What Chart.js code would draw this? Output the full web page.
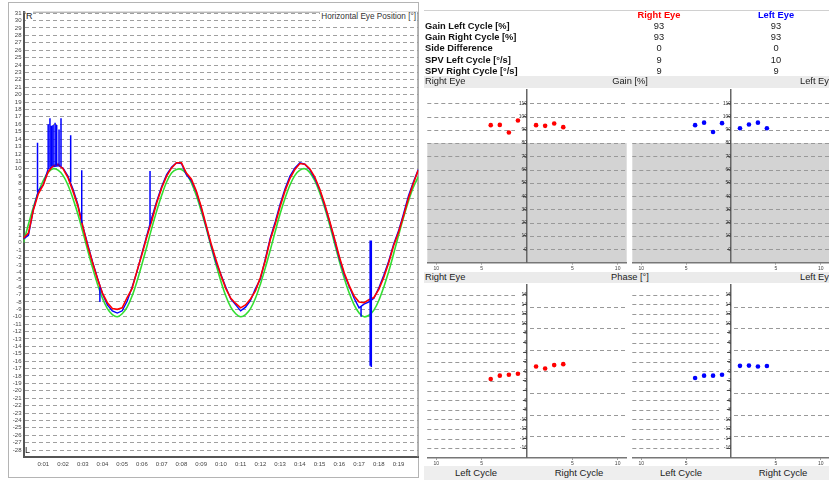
<!DOCTYPE html>
<html>
<head>
<meta charset="utf-8">
<script src="https://cdn.jsdelivr.net/npm/chart.js@4.4.1/dist/chart.umd.min.js"></script>
<style>
  body { margin: 0; width: 829px; height: 480px; overflow: hidden; background: #fff; position: relative;
         font-family: "Liberation Sans", Arial, sans-serif; color: #222; }
  canvas, .abs { position: absolute; }
  .band { position: absolute; left: 424px; width: 412px; background: #ebebeb; }
  .band span { position: absolute; top: 0; white-space: nowrap; }
</style>
</head>
<body>
<div class="abs" style="left:8px;top:2px;width:411px;height:476px;border:1px solid #b4b4b4;box-sizing:border-box"></div>
<canvas id="eyeChart" width="412" height="476" style="left:8px;top:2px"></canvas>
<div class="abs" style="left:26px;top:11px;font-size:9px;line-height:10px;color:#222;background:#fff">R</div>
<div class="abs" style="left:25px;top:445px;font-size:9px;line-height:10px;color:#222;background:#fff">L</div>
<div class="abs" id="eyeTitle" style="right:412px;top:12px;font-size:8.2px;line-height:10px;color:#333;background:#fff;padding:0 1px">Horizontal Eye Position [°]</div>

<div class="abs" style="left:424px;top:10px;width:412px;border-top:1px solid #d0d0d0"></div>
<div id="summary"></div>

<div class="band" style="top:76px;height:11.5px;font-size:9.3px;line-height:11.5px">
  <span style="left:1px">Right Eye</span>
  <span style="left:206px;transform:translateX(-50%)">Gain [%]</span>
  <span style="left:376px">Left Eye</span>
</div>
<canvas id="gainRight" width="204" height="185" style="left:425px;top:87px"></canvas>
<canvas id="gainLeft" width="202" height="185" style="left:630px;top:87px"></canvas>

<div class="band" style="top:271.5px;height:11px;font-size:9.3px;line-height:11px">
  <span style="left:1px">Right Eye</span>
  <span style="left:206px;transform:translateX(-50%)">Phase [°]</span>
  <span style="left:376px">Left Eye</span>
</div>
<canvas id="phaseRight" width="204" height="186" style="left:425px;top:282px"></canvas>
<canvas id="phaseLeft" width="202" height="186" style="left:630px;top:282px"></canvas>

<div class="band" style="top:465.5px;height:15px;font-size:9.5px;line-height:13px;background:#eeeeee">
  <span style="left:52px;transform:translateX(-50%)">Left Cycle</span>
  <span style="left:155px;transform:translateX(-50%)">Right Cycle</span>
  <span style="left:257px;transform:translateX(-50%)">Left Cycle</span>
  <span style="left:359px;transform:translateX(-50%)">Right Cycle</span>
</div>

<script>
// ---- eye position trace (seconds / degrees) ----
const times = [
  0, 0.25, 0.5, 0.75, 1, 1.25, 1.5, 1.75, 2, 2.25, 2.5, 2.75, 3, 3.25, 3.5, 3.75,
  4, 4.25, 4.5, 4.75, 5, 5.25, 5.5, 5.75, 6, 6.25, 6.5, 6.75, 7, 7.25, 7.5, 7.75,
  8, 8.25, 8.5, 8.75, 9, 9.25, 9.5, 9.75, 10, 10.25, 10.5, 10.75, 11, 11.25, 11.5, 11.75,
  12, 12.25, 12.5, 12.75, 13, 13.25, 13.5, 13.75, 14, 14.25, 14.5, 14.75, 15, 15.25, 15.5, 15.75,
  16, 16.25, 16.5, 16.75, 17, 17.25, 17.5, 17.75, 18, 18.25, 18.5, 18.75, 19, 19.25, 19.5, 19.75, 20
];
const stimulus = [
  0, 2.5, 4.8, 6.8, 8.4, 9.5, 10, 9.8, 9.1, 7.8, 6.0, 3.9, 1.5, -1.0, -3.4, -5.6,
  -7.5, -8.9, -9.7, -10, -9.6, -8.7, -7.2, -5.2, -2.9, -0.5, 2.0, 4.3, 6.4, 8.2, 9.4, 9.9,
  9.9, 9.3, 8.1, 6.4, 4.3, 2.0, -0.5, -2.9, -5.2, -7.2, -8.7, -9.6, -10, -9.7, -8.9, -7.5,
  -5.6, -3.4, -1.0, 1.5, 3.9, 6.0, 7.8, 9.1, 9.8, 10, 9.5, 8.4, 6.8, 4.8, 2.5, 0,
  -2.5, -4.8, -6.8, -8.4, -9.5, -10, -9.8, -9.1, -7.8, -6.0, -3.9, -1.5, 1.0, 3.4, 5.6, 7.5, 8.9
];
const rightEyePos = [
  0.6, 1.3, 4.4, 6.6, 7.8, 9.6, 10.4, 10.6, 10.0, 8.8, 7.0, 5.0, 2.2, -0.4, -2.7, -4.9,
  -6.8, -8.1, -8.9, -9.0, -8.8, -7.4, -6.2, -3.8, -1.6, 0.8, 3.0, 5.4, 7.4, 9.0, 10.1, 10.8,
  10.8, 9.4, 8.6, 7.0, 4.9, 2.4, -0.1, -2.3, -4.4, -6.2, -7.5, -8.2, -8.8, -8.4, -7.6, -6.5,
  -4.7, -2.4, 0.4, 2.5, 4.9, 7.0, 8.7, 9.9, 10.7, 10.6, 10.0, 8.9, 7.3, 5.3, 3.0, 0.6,
  -1.9, -4.1, -5.8, -7.2, -8.0, -8.1, -7.7, -7.4, -6.3, -4.7, -2.7, -0.4, 1.4, 3.6, 6.0, 8.0, 9.8
];
const leftEyePos = [
  0.5, 1.0, 4.5, 7.0, 7.8, 10.0, 10.3, 10.4, 10.1, 9.0, 7.3, 5.2, 2.3, -0.2, -2.6, -4.8,
  -6.9, -8.4, -9.2, -9.5, -9.2, -7.9, -6.0, -3.9, -1.4, 1.0, 3.4, 5.6, 7.6, 9.2, 10.2, 10.8,
  10.7, 9.2, 8.4, 6.9, 4.7, 2.2, -0.3, -2.6, -4.3, -6.0, -7.6, -8.4, -9.2, -8.7, -7.8, -6.2,
  -4.9, -2.2, 0.6, 2.8, 5.2, 7.3, 9.0, 10.1, 10.8, 10.6, 9.9, 8.7, 7.2, 5.1, 2.9, 0.4,
  -2.1, -4.3, -5.9, -7.5, -8.8, -8.3, -8.0, -7.5, -6.1, -4.4, -2.5, -0.2, 1.6, 3.9, 6.3, 8.2, 9.9
];
// blink / saccade artefacts on the left eye channel
const spikeTimes = [0.71, 1.25, 1.34, 1.42, 1.5, 1.6, 1.68, 1.8, 1.9, 2.39, 2.95, 3.87, 6.41, 17.1, 17.56, 17.62];
const spikeFrom  = [6.8, 10.0, 10.2, 10.3, 10.4, 10.4, 10.4, 10.4, 10.3, 8.2, 2.7, -6.0, 2.5, -8.6, 0.3, 0.3];
const spikeTo    = [13.5, 16.0, 16.8, 15.8, 15.9, 16.2, 15.9, 15.3, 16.8, 14.5, 9.8, -8.0, 9.7, -10.0, -16.6, -16.8];
const timeTicks  = [1, 2, 3, 4, 5, 6, 7, 8, 9, 10, 11, 12, 13, 14, 15, 16, 17, 18, 19];
const timeLabels = ['0:01', '0:02', '0:03', '0:04', '0:05', '0:06', '0:07', '0:08', '0:09', '0:10',
                    '0:11', '0:12', '0:13', '0:14', '0:15', '0:16', '0:17', '0:18', '0:19'];

// ---- summary table ----
const summaryLabels = ['Gain Left Cycle [%]', 'Gain Right Cycle [%]', 'Side Difference', 'SPV Left Cycle [°/s]', 'SPV Right Cycle [°/s]'];
const summaryRight = [93, 93, 0, 9, 9];
const summaryLeft = [93, 93, 0, 10, 9];

// ---- per cycle gain / phase ----
const cyclePos = [-4, -3, -2, -1, 1, 2, 3, 4];
const gainRightEye = [93.5, 93.7, 88, 97, 93.5, 93, 94.7, 92];
const gainLeftEye = [93.5, 95.4, 88.3, 95, 91.2, 94, 95.4, 91.2];
const phaseRightEye = [-1.6, -0.9, -0.7, -0.5, 1.0, 0.6, 1.3, 1.5];
const phaseLeftEye = [-1.4, -0.9, -0.9, -0.7, 1.15, 1.2, 1.0, 1.1];
const cycleTicks = [-10, -5, 5, 10];
const gainTicks = [0, 10, 20, 30, 40, 50, 60, 70, 80, 90, 100, 110];
const phaseTicks = [-16, -14, -12, -10, -8, -6, -4, -2, 0, 2, 4, 6, 8, 10, 12, 14, 16];
const phaseWideGrid = [-13.5, -9, -4.5, 0, 4.5, 9, 13.5];
const gainNormLimit = 80;

const RED = '#ff0000', BLUE = '#0000ff', GREEN = '#33dd33';
Chart.defaults.font.family = '"Liberation Sans", Arial, sans-serif';

// summary rows
var summary = document.getElementById('summary');
function addText(txt, left, top, css) {
    var d = document.createElement('div');
    d.className = 'abs';
    d.textContent = txt;
    d.style.cssText += 'left:' + left + 'px;top:' + top + 'px;line-height:11px;white-space:nowrap;' + css;
    summary.appendChild(d);
}
addText('Right Eye', 659, 10.2, 'font-size:9.3px;font-weight:bold;color:' + RED + ';transform:translateX(-50%)');
addText('Left Eye', 776, 10.2, 'font-size:9.3px;font-weight:bold;color:' + BLUE + ';transform:translateX(-50%)');
summaryLabels.forEach(function (lbl, i) {
    var top = 21.2 + i * 11.1;
    addText(lbl, 425, top, 'font-size:9.3px;font-weight:bold;color:#111');
    addText(summaryRight[i], 659, top, 'font-size:9.3px;color:#222;transform:translateX(-50%)');
    addText(summaryLeft[i], 776, top, 'font-size:9.3px;color:#222;transform:translateX(-50%)');
});

// ---- main trace chart ----
var spikePts = [];
spikeTimes.forEach(function (t, i) {
    spikePts.push({x: t, y: spikeFrom[i]}, {x: t, y: spikeTo[i]}, {x: t, y: null});
});

const plotFrame = {
    id: 'plotFrame',
    beforeDatasetsDraw: function (chart) {
        var a = chart.chartArea, ctx = chart.ctx;
        ctx.save();
        ctx.strokeStyle = '#9a9a9a';
        ctx.lineWidth = 1;
        ctx.beginPath();
        ctx.moveTo(a.left, a.top + 0.5);
        ctx.lineTo(a.right - 0.5, a.top + 0.5);
        ctx.lineTo(a.right - 0.5, a.bottom);
        ctx.stroke();
        ctx.restore();
    }
};

new Chart(document.getElementById('eyeChart'), {
    type: 'line',
    data: {
        datasets: [
            { data: spikePts, borderColor: BLUE, borderWidth: 1.5, pointRadius: 0, spanGaps: false, order: 0 },
            { data: times.map((t, i) => ({x: t, y: rightEyePos[i]})), borderColor: RED, borderWidth: 1.6, pointRadius: 0, tension: 0, order: 1 },
            { data: times.map((t, i) => ({x: t, y: leftEyePos[i]})), borderColor: BLUE, borderWidth: 1.4, pointRadius: 0, tension: 0, order: 2 },
            { data: times.map((t, i) => ({x: t, y: stimulus[i]})), borderColor: GREEN, borderWidth: 1.6, pointRadius: 0, tension: 0.35, order: 3 }
        ]
    },
    options: {
        responsive: false,
        animation: false,
        layout: { padding: { top: 9.7, right: 1.7, left: 0, bottom: 0 } },
        plugins: { legend: { display: false }, tooltip: { enabled: false } },
        scales: {
            x: {
                type: 'linear', min: 0, max: 20,
                afterBuildTicks: function (s) { s.ticks = timeTicks.map(v => ({value: v})); },
                afterFit: function (s) { s.height = 21.3; },
                grid: { display: false, drawTicks: false },
                border: { color: '#555', width: 2 },
                ticks: { font: { size: 6 }, color: '#444', padding: 4, maxRotation: 0, autoSkip: false,
                         callback: function (v, i) { return timeLabels[i]; } }
            },
            y: {
                type: 'linear', min: -28.9, max: 31.2,
                afterFit: function (s) { s.width = 15.5; },
                grid: { color: '#a0a0a0', drawTicks: false, lineWidth: 1 },
                border: { color: '#555', width: 2, dash: [4, 3] },
                ticks: { stepSize: 1, includeBounds: false, autoSkip: false, font: { size: 6 }, color: '#444', padding: 2 }
            }
        }
    },
    plugins: [plotFrame]
});

// ---- cycle panels ----
function halfGrid(leftVals, rightVals, shade) {
    return {
        id: 'halfGrid',
        beforeDraw: function (chart) {
            var a = chart.chartArea, ctx = chart.ctx;
            var ys = chart.scales.y, cx = chart.scales.x.getPixelForValue(0);
            ctx.save();
            if (shade !== null) {
                ctx.fillStyle = '#d3d3d3';
                var top = ys.getPixelForValue(shade);
                ctx.fillRect(a.left, top, a.right - a.left, a.bottom - top);
            }
            ctx.strokeStyle = '#999999';
            ctx.lineWidth = 1;
            ctx.setLineDash([4, 3]);
            leftVals.forEach(function (v) {
                var y = Math.round(ys.getPixelForValue(v)) + 0.5;
                ctx.beginPath(); ctx.moveTo(a.left, y); ctx.lineTo(cx - 12, y); ctx.stroke();
            });
            rightVals.forEach(function (v) {
                var y = Math.round(ys.getPixelForValue(v)) + 0.5;
                ctx.beginPath(); ctx.moveTo(cx + 3, y); ctx.lineTo(a.right, y); ctx.stroke();
            });
            ctx.restore();
        }
    };
}

function makePanel(id, values, color, o) {
    return new Chart(document.getElementById(id), {
        type: 'scatter',
        data: { datasets: [{ data: cyclePos.map((x, i) => ({x: x, y: values[i]})),
                             backgroundColor: color, borderWidth: 0, pointRadius: 2.3, pointHoverRadius: 2.3 }] },
        options: {
            responsive: false,
            animation: false,
            layout: { padding: { top: 0.5 } },
            plugins: { legend: { display: false }, tooltip: { enabled: false } },
            scales: {
                x: {
                    type: 'linear', min: -11, max: 11,
                    afterBuildTicks: function (s) { s.ticks = cycleTicks.map(v => ({value: v})); },
                    afterFit: function (s) { s.height = o.xHeight; },
                    grid: { display: true, drawOnChartArea: false, tickLength: 2, color: '#777' },
                    border: { color: '#777', width: 1.5 },
                    ticks: { font: { size: 5 }, color: '#444', padding: 1, maxRotation: 0, autoSkip: false,
                             callback: function (v) { return Math.abs(v); } }
                },
                y: {
                    type: 'linear', min: o.min, max: o.max, position: { x: 0 },
                    afterBuildTicks: function (s) { s.ticks = o.ticks.map(v => ({value: v})); },
                    grid: { display: true, drawOnChartArea: false, tickLength: 3, color: '#555' },
                    border: { color: '#666', width: 1.5 },
                    ticks: { font: { size: 5 }, color: '#333', padding: 0, autoSkip: false }
                }
            }
        },
        plugins: [halfGrid(o.ticks, o.rightGrid, o.shade)]
    });
}

var gainOpts = { min: -10, max: 120, ticks: gainTicks, rightGrid: gainTicks, shade: gainNormLimit, xHeight: 9.5 };
var phaseOpts = { min: -18, max: 18, ticks: phaseTicks, rightGrid: phaseWideGrid, shade: null, xHeight: 10.3 };
makePanel('gainRight', gainRightEye, RED, gainOpts);
makePanel('gainLeft', gainLeftEye, BLUE, gainOpts);
makePanel('phaseRight', phaseRightEye, RED, phaseOpts);
makePanel('phaseLeft', phaseLeftEye, BLUE, phaseOpts);
</script>
</body>
</html>
